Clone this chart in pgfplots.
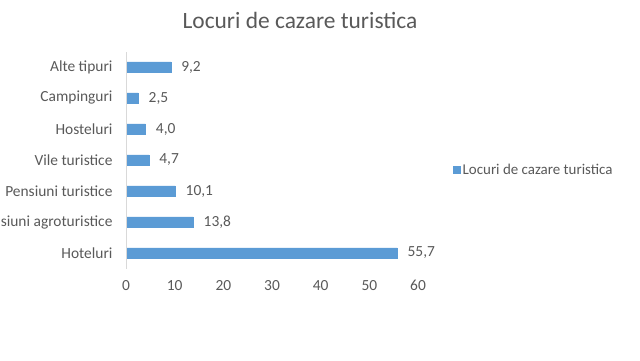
\documentclass[border=0pt]{standalone}
\usepackage{pgfplots}
\pgfplotsset{compat=1.18}
\usepackage{fontspec}
\setmainfont{Carlito}
\definecolor{barblue}{HTML}{5B9BD5}
\definecolor{txt}{HTML}{595959}
\definecolor{axline}{HTML}{D9D9D9}
\begin{document}
\begin{tikzpicture}[x=1bp,y=1bp]
\path[use as bounding box] (0,0) rectangle (640,360);
\node[font=\fontsize{23.5}{26}\selectfont, text=txt] at (300,340) {Locuri de cazare turistica};
\begin{axis}[
  at={(126bp,91.5bp)}, anchor=south west,
  scale only axis, width=292bp, height=217bp,
  xbar, bar width=10.5bp,
  xmin=0, xmax=60, ymin=-0.5, ymax=6.5,
  xtick={0,10,...,60},
  ytick={0,1,2,3,4,5,6},
  yticklabels={Hoteluri,Pensiuni agroturistice,Pensiuni turistice,Vile turistice,Hosteluri,Campinguri,Alte tipuri},
  axis line style={draw=none},
  major tick length=0pt,
  tick style={draw=none},
  ticklabel style={font=\fontsize{15.5}{17}\selectfont, text=txt},
  /pgf/number format/assume math mode=true,
  xticklabel style={yshift=-8bp},
  yticklabel style={xshift=-10bp},
  nodes near coords,
  nodes near coords style={font=\fontsize{15.5}{17}\selectfont, text=txt, xshift=7bp,
    /pgf/number format/.cd, fixed, fixed zerofill, precision=1, use comma, assume math mode=true},
  legend style={at={(1.11,0.454)}, anchor=west, draw=none, font=\fontsize{15}{17}\selectfont, text=txt},
  legend image code/.code={\fill[barblue] (0bp,-3.5bp) rectangle (7bp,3.5bp);},
  legend cell align=left,
]
\addplot[fill=barblue, draw=barblue] coordinates {
  (55.7,0) (13.8,1) (10.1,2) (4.7,3) (4.0,4) (2.5,5) (9.2,6)
};
\addlegendentry{Locuri de cazare turistica}
\draw[axline, line width=0.8bp] (rel axis cs:0,0) -- (rel axis cs:0,1);
\end{axis}
\end{tikzpicture}
\end{document}
